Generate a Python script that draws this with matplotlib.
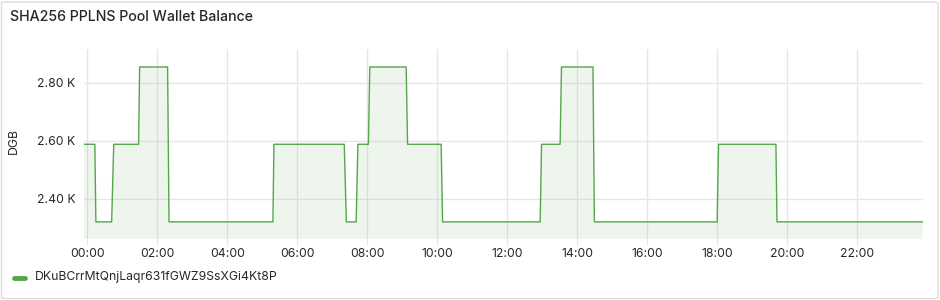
import datetime as dt
import matplotlib
matplotlib.use("Agg")
import matplotlib.pyplot as plt
import matplotlib.dates as mdates
from matplotlib.lines import Line2D
from matplotlib.patches import FancyBboxPatch
from matplotlib.ticker import FuncFormatter, FixedLocator

# ----- Data -----
BASE = dt.datetime(2024, 1, 1)
HOURS = [-0.10, 0.21, 0.24, 0.69, 0.75, 1.46, 1.49, 2.29, 2.33, 5.30, 5.33,
         7.34, 7.40, 7.68, 7.73, 8.03, 8.07, 9.11, 9.15, 10.11, 10.15,
         12.94, 12.98, 13.51, 13.55, 14.45, 14.49, 18.00, 18.04, 19.68,
         19.71, 23.87]
BALANCE = [2588, 2588, 2320, 2320, 2588, 2588, 2855, 2855, 2320, 2320, 2588,
           2588, 2320, 2320, 2588, 2588, 2855, 2855, 2588, 2588, 2320,
           2320, 2588, 2588, 2855, 2855, 2320, 2320, 2588, 2588,
           2320, 2320]
Y_TICKS = [2400, 2600, 2800]
SERIES_NAME = "DKuBCrrMtQnjLaqr631fGWZ9SsXGi4Kt8P"
TITLE = "SHA256 PPLNS Pool Wallet Balance"

GREEN = "#56a64b"
TEXT = "#24292e"
GRID = "#e6e6ea"
SMALL = 8.8

plt.rcParams["font.family"] = ["Inter", "DejaVu Sans"]

times = [BASE + dt.timedelta(hours=h) for h in HOURS]

fig = plt.figure(figsize=(9.4, 3.0), dpi=100)
W, H = 940, 300

# panel border
fig.patches.append(FancyBboxPatch((1.5 / W, 1.5 / H), 936.5 / W, 296.5 / H,
                                  boxstyle="round,pad=0,rounding_size=0.004",
                                  transform=fig.transFigure, fill=False,
                                  edgecolor="#dcdce0", linewidth=1))

ax = fig.add_axes([84 / W, 61.3 / H, (922.5 - 84) / W, (238.7 - 49) / H])

ax.plot(times, BALANCE, color=GREEN, linewidth=1.0, zorder=3)
ax.fill_between(times, BALANCE, 0, color=GREEN, alpha=0.1, linewidth=0, zorder=2)

ax.set_xlim(BASE + dt.timedelta(hours=-0.10), BASE + dt.timedelta(hours=23.87))
ax.set_ylim(2262, 2917)

ax.xaxis.set_major_locator(mdates.HourLocator(byhour=range(0, 24, 2)))
ax.xaxis.set_major_formatter(mdates.DateFormatter("%H:%M"))
ax.yaxis.set_major_locator(FixedLocator(Y_TICKS))
ax.yaxis.set_major_formatter(FuncFormatter(lambda v, p: f"{v / 1000:.2f} K"))

ax.grid(True, color=GRID, linewidth=1.0, zorder=1)
for s in ax.spines.values():
    s.set_visible(False)
ax.tick_params(axis="x", length=4, color=GRID, pad=3, labelsize=SMALL, labelcolor=TEXT)
ax.tick_params(axis="y", length=0, pad=6, labelsize=SMALL, labelcolor=TEXT)

fig.text(14 / W, 1 - 141 / H, "DGB", rotation=90, ha="center", va="center",
         fontsize=SMALL, color=TEXT)
fig.text(10 / W, 1 - 17 / H, TITLE, ha="left", va="center",
         fontsize=10.2, fontweight="medium", color=TEXT)

# legend
fig.add_artist(Line2D([14 / W, 25 / W], [1 - 277.5 / H] * 2, color=GREEN,
                      linewidth=3.5, solid_capstyle="round", transform=fig.transFigure))
fig.text(35 / W, 1 - 277 / H, SERIES_NAME, ha="left", va="center",
         fontsize=SMALL, color=TEXT)

fig.savefig("out.png", dpi=100)
